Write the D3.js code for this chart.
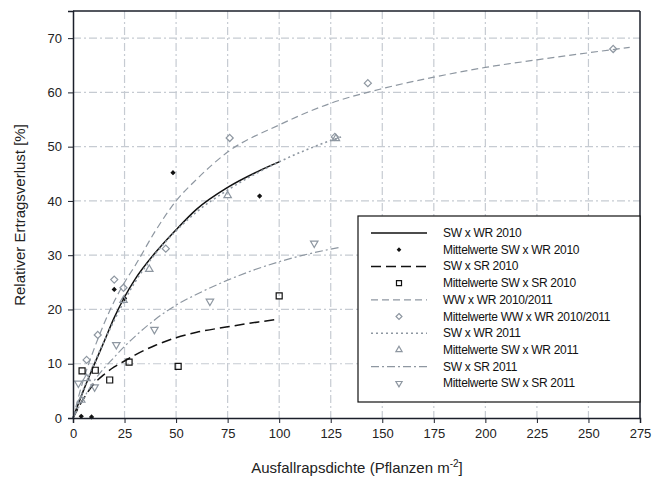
<!DOCTYPE html>
<html>
<head>
<meta charset="utf-8">
<script src="https://cdn.jsdelivr.net/npm/d3@7"></script>
<style>
  body { margin: 0; background: #fff; }
  text { font-family: "Liberation Sans", Arial, sans-serif; }
</style>
</head>
<body>
<svg id="chart" width="652" height="486"></svg>
<script>
const width = 652;
const height = 486;

const xTicks = [0, 25, 50, 75, 100, 125, 150, 175, 200, 225, 250, 275];
const yTicks = [0, 10, 20, 30, 40, 50, 60, 70];

// fitted curves
const swWr2010Line = [[0,0],[5,5],[10,9.6],[15,14],[20,18.5],[25,22.3],[30,25.5],[40,30.5],[50,34.7],[60,38.5],[75,42.5],[90,45.5],[100,47.2]];
const swSr2010Line = [[0,0],[5,3.5],[10,6.2],[15,8],[20,9.4],[25,10.5],[30,11.6],[40,13.4],[50,14.8],[60,15.8],[75,16.8],[90,17.7],[100,18.2]];
const wwWrLine = [[0,0],[5,7],[10,12.5],[20,21.5],[25,25],[30,28],[40,34.5],[50,40],[60,44],[75,49],[100,54],[125,58],[150,60.7],[175,62.8],[200,64.6],[225,66],[250,67.3],[270,68.3]];
const swWr2011Line = [[0,0],[5,5.2],[10,9.8],[20,18],[30,25],[40,30.3],[50,34.5],[60,38],[75,42],[100,47.2],[115,49.7],[130,51.8]];
const swSr2011Line = [[0,0],[5,3.5],[10,6.7],[20,11.2],[25,13.2],[30,15],[40,18.2],[50,20.8],[60,22.8],[75,25.4],[100,28.8],[115,30.3],[130,31.5]];

// mean values
const swWr2010Pts = [[4,0.3],[9,0.2],[20,23.7],[25,22],[48.5,45.2],[90.5,40.9]];
const swSr2010Pts = [[4.4,8.7],[10.8,8.8],[17.8,7],[27.2,10.3],[51,9.5],[100,22.5]];
const wwWrPts = [[6.6,10.7],[12,15.3],[20,25.5],[24.5,24],[45,31.2],[76,51.6],[127,51.8],[143,61.7],[262,68]];
const swWr2011Pts = [[4,3.3],[6.6,7.3],[24.5,21.7],[37,27.4],[75,41],[127.5,51.5]];
const swSr2011Pts = [[2.6,6.4],[10.5,5.7],[21,13.5],[39.5,16.3],[66.4,21.5],[117,32.2]];

const legendLabels = [
  "SW x WR 2010", "Mittelwerte SW x WR 2010",
  "SW x SR 2010", "Mittelwerte SW x SR 2010",
  "WW x WR 2010/2011", "Mittelwerte WW x WR 2010/2011",
  "SW x WR 2011", "Mittelwerte SW x WR 2011",
  "SW x SR 2011", "Mittelwerte SW x SR 2011"
];

const black = "#111";
const grey = "#8e97a1";

const lines = [
  { data: swWr2010Line, color: black, dash: null, w: 1.5 },
  { data: swSr2010Line, color: black, dash: "10,5", w: 1.5 },
  { data: wwWrLine, color: grey, dash: "7,4", w: 1.2 },
  { data: swWr2011Line, color: grey, dash: "2,3", w: 1.6 },
  { data: swSr2011Line, color: grey, dash: "8,3,2,3", w: 1.2 }
];
const points = [
  { data: swWr2010Pts, color: black, type: d3.symbolDiamond2, size: 8, fill: black },
  { data: swSr2010Pts, color: black, type: d3.symbolSquare, size: 36, fill: "none" },
  { data: wwWrPts, color: grey, type: d3.symbolDiamond2, size: 32, fill: "none" },
  { data: swWr2011Pts, color: grey, type: d3.symbolTriangle, size: 24, fill: "none" },
  { data: swSr2011Pts, color: grey, type: d3.symbolTriangle, size: 24, fill: "none", flip: true }
];

const svg = d3.select("#chart");
const x = d3.scaleLinear().domain([0, 275]).range([73, 640]);
const y = d3.scaleLinear().domain([0, 75]).range([418, 11]);

// grid
const grid = svg.append("g").attr("stroke", "#c6cbd2").attr("stroke-width", 1.2)
  .attr("stroke-dasharray", "8,3,2,3");
grid.selectAll("line.vx").data(xTicks.slice(1, -1)).enter().append("line")
  .attr("x1", d => x(d)).attr("x2", d => x(d)).attr("y1", y(75)).attr("y2", y(0));
grid.selectAll("line.hy").data(yTicks.slice(1)).enter().append("line")
  .attr("x1", x(0)).attr("x2", x(275)).attr("y1", d => y(d)).attr("y2", d => y(d));

const line = d3.line().x(d => x(d[0])).y(d => y(d[1])).curve(d3.curveMonotoneX);
const plot = svg.append("g");
lines.forEach(l => {
  plot.append("path").attr("d", line(l.data)).attr("fill", "none")
    .attr("stroke", l.color).attr("stroke-width", l.w)
    .attr("stroke-dasharray", l.dash);
});
points.forEach(p => {
  plot.selectAll(null).data(p.data).enter().append("path")
    .attr("d", d3.symbol().type(p.type).size(p.size))
    .attr("transform", d => `translate(${x(d[0])},${y(d[1])})` + (p.flip ? " rotate(180)" : ""))
    .attr("fill", p.fill).attr("stroke", p.color).attr("stroke-width", 1.2);
});

// axes
const xAxis = svg.append("g").attr("transform", `translate(0,${y(0)})`)
  .call(d3.axisBottom(x).tickValues(xTicks).tickSize(5).tickPadding(6));
const yAxis = svg.append("g").attr("transform", `translate(${x(0)},0)`)
  .call(d3.axisLeft(y).tickValues(yTicks).tickSize(5).tickPadding(6));
[xAxis, yAxis].forEach(a => {
  a.select(".domain").attr("stroke", "#1b1f2a").attr("stroke-width", 1.5);
  a.selectAll(".tick line").attr("stroke", "#1b1f2a");
  a.selectAll(".tick text").attr("font-size", 13).attr("fill", "#222")
    .attr("font-family", "Liberation Sans, Arial, sans-serif");
});
svg.append("line").attr("x1", x(0)).attr("x2", x(275)).attr("y1", y(75)).attr("y2", y(75))
  .attr("stroke", "#1b1f2a").attr("stroke-width", 1.5);
svg.append("line").attr("x1", x(275)).attr("x2", x(275)).attr("y1", y(75)).attr("y2", y(0))
  .attr("stroke", "#1b1f2a").attr("stroke-width", 1.5);

// titles
const xt = svg.append("text").attr("x", 357).attr("y", 473).attr("text-anchor", "middle")
  .attr("font-size", 15).attr("fill", "#222");
xt.append("tspan").text("Ausfallrapsdichte (Pflanzen m");
xt.append("tspan").attr("dy", -6).attr("font-size", 10).text("-2");
xt.append("tspan").attr("dy", 6).text("]");
svg.append("text").attr("transform", "translate(25,215) rotate(-90)")
  .attr("text-anchor", "middle").attr("font-size", 15).attr("fill", "#222")
  .text("Relativer Ertragsverlust [%]");

// legend
const lg = svg.append("g");
lg.append("rect").attr("x", 358).attr("y", 216).attr("width", 282).attr("height", 186)
  .attr("fill", "#fff").attr("stroke", "#111").attr("stroke-width", 1.2);
legendLabels.forEach((lab, i) => {
  const ly = 233 + i * 16.7;
  const s = i % 2 === 0 ? lines[i / 2] : points[(i - 1) / 2];
  if (i % 2 === 0) {
    lg.append("line").attr("x1", 371).attr("x2", 427).attr("y1", ly).attr("y2", ly)
      .attr("stroke", s.color).attr("stroke-width", s.w).attr("stroke-dasharray", s.dash);
  } else {
    lg.append("path").attr("d", d3.symbol().type(s.type).size(s.size * 0.7))
      .attr("transform", `translate(399,${ly})` + (s.flip ? " rotate(180)" : ""))
      .attr("fill", s.fill).attr("stroke", s.color).attr("stroke-width", 1.2);
  }
  lg.append("text").attr("x", 443).attr("y", ly + 4).attr("font-size", 12)
    .attr("letter-spacing", "-0.3").attr("fill", "#111").text(lab);
});
</script>
</body>
</html>
